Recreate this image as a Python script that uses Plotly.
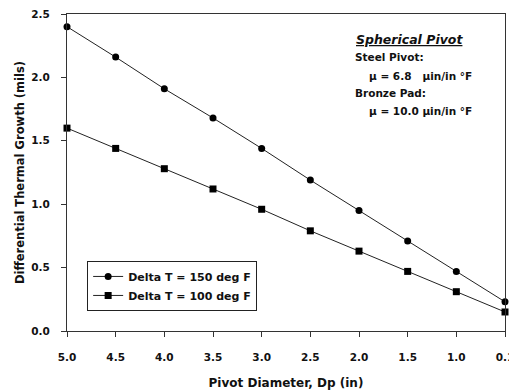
import plotly.graph_objects as go

diameters = ["5.0", "4.5", "4.0", "3.5", "3.0", "2.5", "2.0", "1.5", "1.0", "0.1"]
growth_150 = [2.40, 2.16, 1.91, 1.68, 1.44, 1.19, 0.95, 0.71, 0.47, 0.23]
growth_100 = [1.60, 1.44, 1.28, 1.12, 0.96, 0.79, 0.63, 0.47, 0.31, 0.15]
y_ticks = [0.0, 0.5, 1.0, 1.5, 2.0, 2.5]

FONT = "DejaVu Sans, Liberation Sans, Arial, sans-serif"
INK = "#111"

fig = go.Figure()
fig.add_trace(go.Scatter(
    x=diameters, y=growth_150, mode="lines+markers",
    name="<b>Delta T = 150 deg F</b>",
    line=dict(color="#222", width=1),
    marker=dict(symbol="circle", size=7, color="#000"),
    cliponaxis=False,
))
fig.add_trace(go.Scatter(
    x=diameters, y=growth_100, mode="lines+markers",
    name="<b>Delta T = 100 deg F</b>",
    line=dict(color="#222", width=1),
    marker=dict(symbol="square", size=7, color="#000"),
    cliponaxis=False,
))

fig.update_layout(
    width=509, height=390,
    margin=dict(l=67, r=4, t=14, b=59),
    paper_bgcolor="white", plot_bgcolor="white",
    font=dict(family=FONT, color=INK),
    showlegend=True,
    legend=dict(
        x=0.046, y=0.221, xanchor="left", yanchor="top",
        bordercolor="#222", borderwidth=1, bgcolor="white",
        font=dict(size=11, family=FONT, color=INK),
        tracegroupgap=0, itemwidth=30,
    ),
    xaxis=dict(
        type="category", categoryorder="array", categoryarray=diameters,
        range=[0, 9], automargin=False,
        tickvals=diameters, ticktext=["<b>%s</b>" % d for d in diameters],
        showline=True, linecolor="#333", linewidth=1, mirror=True,
        ticks="outside", ticklen=5, tickcolor="#333",
        ticklabelstandoff=11,
        showgrid=False, zeroline=False,
        tickfont=dict(size=10.5, family=FONT, color=INK),
        title=dict(text="<b>Pivot Diameter, Dp (in)</b>",
                   font=dict(size=12, family=FONT, color=INK), standoff=17),
    ),
    yaxis=dict(
        range=[0, 2.5], automargin=False,
        tickvals=y_ticks, ticktext=["<b>%.1f</b>" % v for v in y_ticks],
        showline=True, linecolor="#333", linewidth=1, mirror=True,
        ticks="outside", ticklen=5, tickcolor="#333",
        ticklabelstandoff=9,
        showgrid=False, zeroline=False,
        tickfont=dict(size=10.5, family=FONT, color=INK),
        title=dict(text="<b>Differential Thermal Growth (mils)</b>",
                   font=dict(size=11.5, family=FONT, color=INK), standoff=4),
    ),
)

notes = [
    ("<b><i><u>Spherical Pivot</u></i></b>", 0.655, 0.921, 12.5),
    ("<b>Steel Pivot:</b>", 0.653, 0.864, 10.5),
    ("<b>μ = 6.8   μin/in °F</b>", 0.685, 0.804, 10.5),
    ("<b>Bronze Pad:</b>", 0.653, 0.751, 10.5),
    ("<b>μ = 10.0 μin/in °F</b>", 0.685, 0.694, 10.5),
]
for text, x, y, size in notes:
    fig.add_annotation(text=text, x=x, y=y, xref="paper", yref="paper",
                       xanchor="left", yanchor="middle", showarrow=False,
                       font=dict(size=size, family=FONT, color=INK))

fig.write_html(
    "out.html",
    config={"displayModeBar": False},
    post_script="document.body.style.margin='0';document.body.style.overflow='hidden';",
)
